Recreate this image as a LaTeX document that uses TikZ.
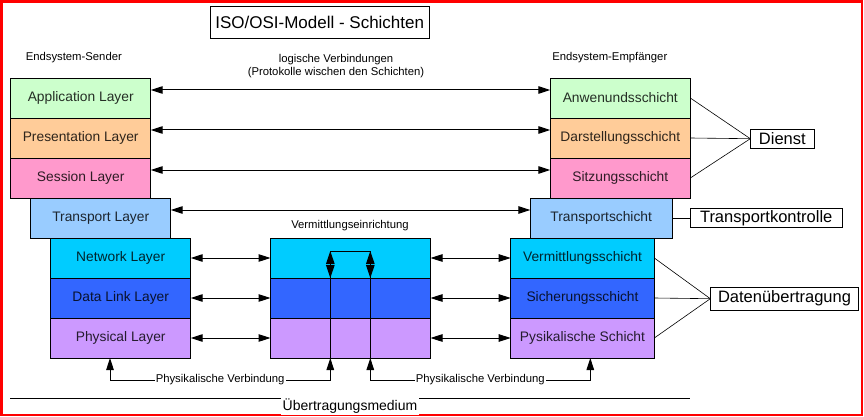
\documentclass[tikz,border=0pt]{standalone}
\usepackage{fontspec}
\setmainfont{Liberation Sans}
\usetikzlibrary{arrows.meta,positioning}

\definecolor{appC}{HTML}{CCFFCC}
\definecolor{presC}{HTML}{FFCC99}
\definecolor{sesC}{HTML}{FF99CC}
\definecolor{transC}{HTML}{99CCFF}
\definecolor{netC}{HTML}{00CCFF}
\definecolor{dlC}{HTML}{3366FF}
\definecolor{phyC}{HTML}{CC99FF}

\tikzset{
  osibox/.style={draw, line width=0.8pt, minimum width=140pt, minimum height=40pt,
    inner sep=0pt, outer sep=0pt, fill=#1, text=#1!18!black,
    font=\fontsize{13.8}{16}\selectfont},
  small/.style={font=\fontsize{11.3}{13}\selectfont},
  tag/.style={draw, line width=0.8pt, inner sep=0pt, outer sep=0pt,
    font=\fontsize{16.5}{19}\selectfont},
  dblarr/.style={{Triangle[length=12pt,width=7.5pt]}-{Triangle[length=12pt,width=7.5pt]}, line width=1pt},
  uparr/.style={{Triangle[length=12pt,width=7.5pt]}-{Triangle[length=12pt,width=7.5pt]}, line width=1pt},
  tiparr/.style={{Triangle[length=13pt,width=8.5pt]}-{Triangle[length=13pt,width=8.5pt]}, line width=1pt},
}

\begin{document}
\begin{tikzpicture}[x=1pt,y=-1pt]
      \useasboundingbox (0,0) rectangle (864,417);
      \draw[red, line width=2.6pt] (1.3,1.3) rectangle (862,415);

      \node[tag, minimum width=219pt, minimum height=32pt, font=\fontsize{17}{20}\selectfont] (title) at (319.7,22.2) {ISO/OSI-Modell - Schichten};
      \node[small] (send) at (73.8,58) {Endsystem-Sender};
      \node[small] (recv) at (609.8,58) {Endsystem-Empfänger};
      \node[small, align=center] (logic) at (336,66.5) {logische Verbindungen\\(Protokolle wischen den Schichten)};

      %% sender
      \node[osibox=appC] (app) at (80.7,98) {Application Layer};
      \node[osibox=presC, below=0pt of app] (pres) {Presentation Layer};
      \node[osibox=sesC, below=0pt of pres] (ses) {Session Layer};
      \node[osibox=transC, below=0pt of ses, xshift=20pt] (trans) {Transport Layer};
      \node[osibox=netC, below=0pt of trans, xshift=20pt] (net) {Network Layer};
      \node[osibox=dlC, below=0pt of net] (dl) {Data Link Layer};
      \node[osibox=phyC, below=0pt of dl] (phy) {Physical Layer};

      %% relay
      \node[small] (relay) at (350,226) {Vermittlungseinrichtung};
      \node[osibox=netC, minimum width=160pt] (relN) at (350.5,258) {};
      \node[osibox=dlC, minimum width=160pt, below=0pt of relN] (relD) {};
      \node[osibox=phyC, minimum width=160pt, below=0pt of relD] (relP) {};

      %% receiver
      \node[osibox=appC] (anw) at (620.3,98) {Anwenundsschicht};
      \node[osibox=presC, below=0pt of anw] (dar) {Darstellungsschicht};
      \node[osibox=sesC, below=0pt of dar] (sit) {Sitzungsschicht};
      \node[osibox=transC, minimum width=141.7pt, below=0pt of sit, xshift=-19.1pt] (transR) {Transportschicht};
      \node[osibox=netC, minimum width=143.6pt, below=0pt of transR, xshift=-18.7pt] (netR) {Vermittlungsschicht};
      \node[osibox=dlC, minimum width=143.6pt, below=0pt of netR] (dlR) {Sicherungsschicht};
      \node[osibox=phyC, minimum width=143.6pt, below=0pt of dlR] (phyR) {Pysikalische Schicht};

      \node[tag, minimum width=64pt, minimum height=19.3pt] (dienst) at (782.3,138.7) {Dienst};
      \node[tag, minimum width=151.7pt, minimum height=19.4pt] (tk) at (766.2,218) {Transportkontrolle};
      \node[tag, minimum width=148.4pt, minimum height=22.7pt] (daten) at (784.5,298.7) {Datenübertragung};

      %% logical connections
      \foreach \a/\b in {app/anw, pres/dar, ses/sit, trans/transR}
        \draw[dblarr] ([yshift=8pt]\a.east) -- ([yshift=8pt]\b.west);
      \foreach \a/\b/\c in {net/relN/netR, dl/relD/dlR, phy/relP/phyR} {
        \draw[dblarr] (\a.east) -- (\b.west);
        \draw[dblarr] (\b.east) -- (\c.west);
      }

      %% service lines
      \foreach \a in {anw,dar,sit}
        \draw[line width=0.6pt] (\a.east) -- (dienst.west);
      \foreach \a in {netR,dlR,phyR}
        \draw[line width=0.6pt] (\a.east) -- (daten.west);
      \draw[line width=0.6pt] (transR.east) -- (tk.west);

      %% inside the relay
      \coordinate (vl) at (330.3,358);
      \coordinate (vr) at (370.3,358);
      \coordinate (tl) at (330.3,251);
      \coordinate (tr) at (370.3,251);
      \draw[line width=1pt] (vl) -- (tl) -- (tr) -- (vr);
      \draw[tiparr] (tl) -- (tl |- relN.south);
      \draw[tiparr] (tr) -- (tr |- relN.south);

      %% physical connections
      \draw[uparr] ([xshift=-10.7pt]phy.south) -- ++(0,22) -| node[pos=0.25, small, fill=white, inner sep=1pt] (pv1) {Physikalische Verbindung} (vl);
      \draw[uparr] (vr) -- ++(0,22) -| node[pos=0.25, small, fill=white, inner sep=1pt] (pv2) {Physikalische Verbindung} ([xshift=7.8pt]phyR.south);

      %% medium
      \coordinate (m1) at (10,398.3);
      \coordinate (m2) at (690,398.3);
      \draw[line width=1pt] (m1) -- node[fill=white, inner xsep=2pt, inner ysep=2pt, yshift=-7.5pt, font=\fontsize{14}{16}\selectfont] (med) {Übertragungsmedium} (m2);
    \end{tikzpicture}
\end{document}
